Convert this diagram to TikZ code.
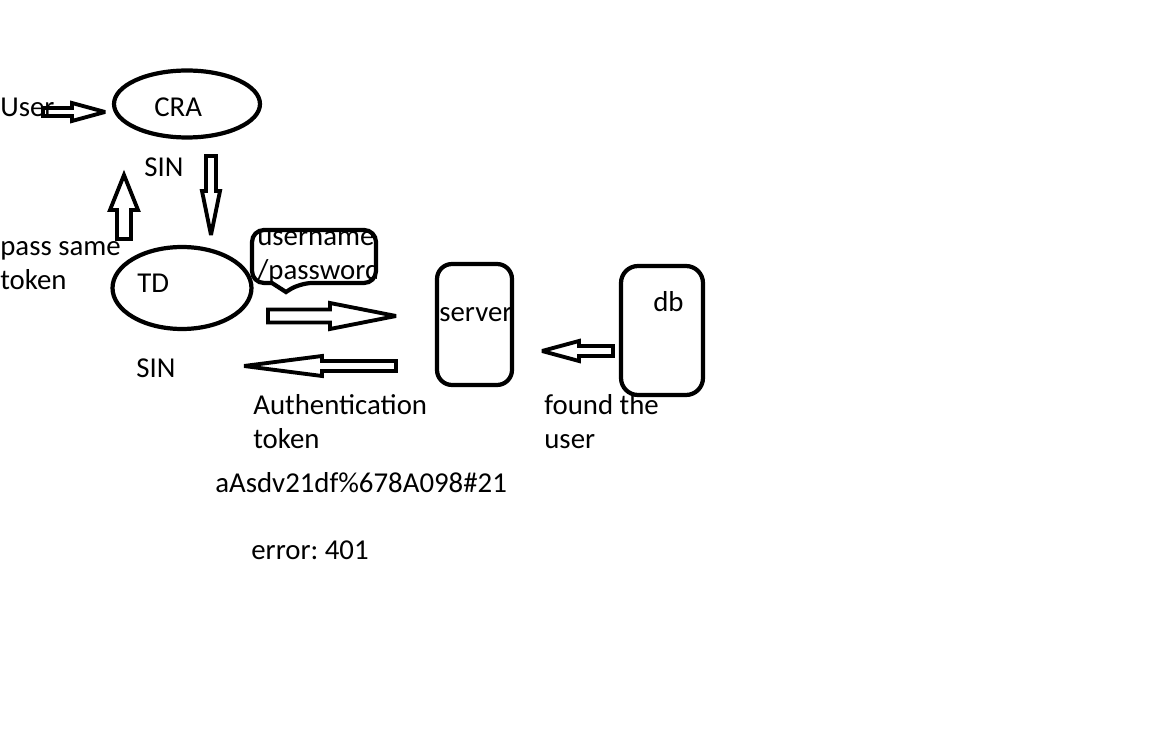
\documentclass[tikz,border=0pt]{standalone}
\usepackage{fontspec}
\setmainfont{Carlito}
\frenchspacing
\usetikzlibrary{calc,shapes.geometric}

\tikzset{
  outline/.style={draw=black, line width=2.4pt, inner sep=0pt},
  blockarrow/.style={draw=black, line width=2.2pt, line join=miter, miter limit=3},
  lbl/.style={font=\fontsize{16.4}{19.9}\selectfont, inner sep=0pt, anchor=base west, align=left}
}

% hollow block arrow: from, to, shaft half width, head half width, head length
\newcommand\hollowarrow[5]{%
  \draw[blockarrow] let \p1=(#1), \p2=(#2),
      \n1={atan2(\y2-\y1,\x2-\x1)}, \n2={veclen(\x2-\x1,\y2-\y1)} in
    ($(\p1)+({\n1+90}:#3)$) -- ($(\p1)+({\n1}:{\n2-#5})+({\n1+90}:#3)$)
    -- ($(\p1)+({\n1}:{\n2-#5})+({\n1+90}:#4)$) -- (\p2)
    -- ($(\p1)+({\n1}:{\n2-#5})+({\n1-90}:#4)$)
    -- ($(\p1)+({\n1}:{\n2-#5})+({\n1-90}:#3)$)
    -- ($(\p1)+({\n1-90}:#3)$) -- cycle;}

\begin{document}
\begin{tikzpicture}[x=0.02cm, y=-0.02cm]
  \useasboundingbox (0,0) rectangle (1153,729);

  % shapes
  \node[outline, ellipse, minimum width=2.92cm, minimum height=1.34cm] (cra) at (187,104) {};
  \node[outline, ellipse, minimum width=2.78cm, minimum height=1.64cm] (td) at (182,288) {};
  \node[outline, rounded corners=0.3cm, minimum width=1.5cm, minimum height=2.42cm] (server) at (474.5,324.5) {};
  \node[outline, rounded corners=0.34cm, minimum width=1.64cm, minimum height=2.58cm] (db) at (662,330.5) {};

  % texts (multi-line ones sit on their last baseline)
  \node[lbl] (user) at (0,117) {User};
  \node[lbl] (cratext) at (154,117) {CRA};
  \node[lbl] (sintop) at (144,177) {SIN};
  \node[lbl] (pass) at (0,290) {pass same\\token};
  \node[lbl] (tdtext) at (137,293) {TD};
  \node[lbl] (sinbottom) at (136,378) {SIN};
  \node[lbl] (servertext) at (439,322) {server};
  \node[lbl] (dbtext) at (653,312) {db};
  \node[lbl] (authtoken) at (253,449) {Authentication\\token};
  \node[lbl] (found) at (544,449) {found the\\user};
  \node[lbl] (tokenvalue) at (215,492) {aAsdv21df\%678A098\#21};
  \node[lbl] (error) at (251,559) {error: 401};

  % speech bubble
  \begin{scope}
    \clip (252,230) rectangle (376,283);
    \node[lbl] (credentials) at (257,280) {username\\/password};
  \end{scope}
  \draw[outline, rounded corners=0.24cm] (252,230) -- (376,230) -- (376,283) -- (300,283)
    [sharp corners] -- (286,292) -- (272,283) [rounded corners=0.24cm] -- (252,283) -- cycle;

  % arrows
  \coordinate (usertail) at (43,112);
  \coordinate (userhead) at (105,112);
  \coordinate (cradown) at (211,156);
  \coordinate (tdtop) at (211,235);
  \coordinate (tdup) at (124,239);
  \coordinate (craup) at (124,175);
  \coordinate (tdright) at (268,316);
  \coordinate (serverleft) at (396,316);
  \coordinate (serverback) at (396,366);
  \coordinate (sinback) at (244,366);
  \coordinate (dbleft) at (613,351);
  \coordinate (serverright) at (542,351);

  \hollowarrow{usertail}{userhead}{0.08cm}{0.18cm}{0.66cm}
  \hollowarrow{cradown}{tdtop}{0.1cm}{0.18cm}{0.88cm}
  \hollowarrow{tdup}{craup}{0.14cm}{0.28cm}{0.7cm}
  \hollowarrow{tdright}{serverleft}{0.13cm}{0.26cm}{1.32cm}
  \hollowarrow{serverback}{sinback}{0.1cm}{0.2cm}{1.56cm}
  \hollowarrow{dbleft}{serverright}{0.1cm}{0.2cm}{0.74cm}
\end{tikzpicture}
\end{document}
